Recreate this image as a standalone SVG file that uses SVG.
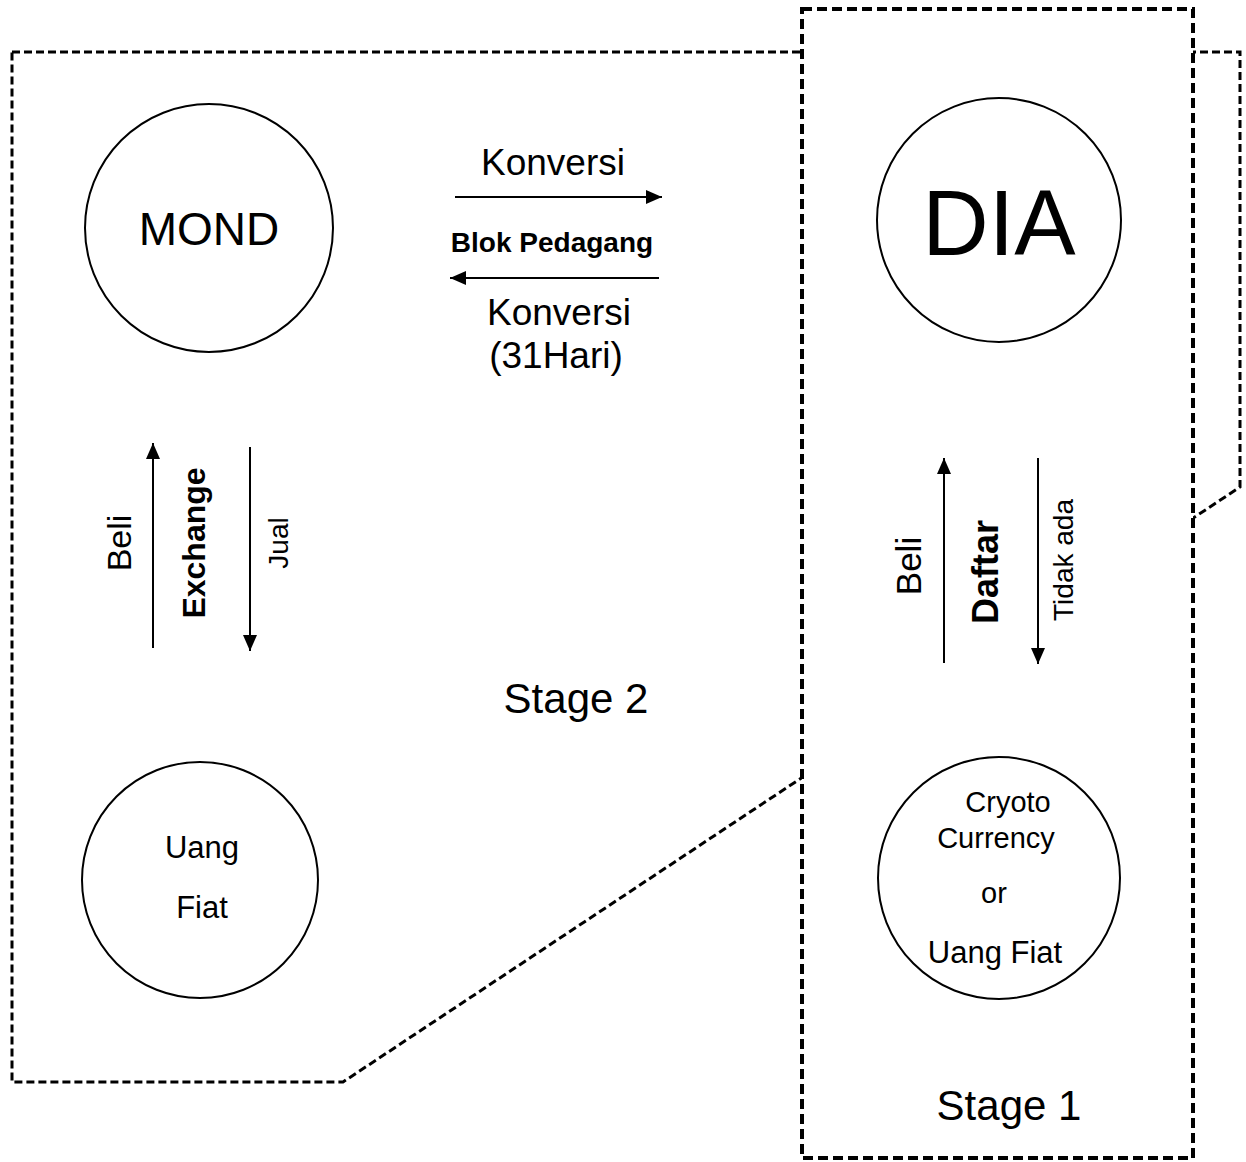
<svg xmlns="http://www.w3.org/2000/svg" width="1246" height="1162" viewBox="0 0 1246 1162">
<style>
text{font-family:"Liberation Sans",Arial,sans-serif;fill:#000}
.b{font-weight:bold}
.node{fill:#fff;stroke:#000;stroke-width:2}
.ln{stroke:#000;stroke-width:2;fill:none}
</style>
<defs>
<marker id="a" viewBox="0 0 16 14" refX="16" refY="7" markerWidth="16" markerHeight="14" markerUnits="userSpaceOnUse" orient="auto">
<path d="M0,0 L16,7 L0,14 z" fill="#000"/>
</marker>
</defs>
<rect width="1246" height="1162" fill="#fff"/>
<g id="stage2">
<polygon points="12,52 1240,52 1240,487 343,1082 12,1082" fill="none" stroke="#000" stroke-width="3" stroke-dasharray="8,4"/>
<text x="576" y="713" font-size="42" text-anchor="middle">Stage 2</text>
</g>
<g id="stage1">
<rect x="802" y="9" width="391" height="1149" fill="#fff" stroke="#000" stroke-width="4" stroke-dasharray="10,5"/>
<text x="1009" y="1120" font-size="42" text-anchor="middle">Stage 1</text>
</g>
<g id="mond">
<circle class="node" cx="209" cy="228" r="124"/>
<text x="209" y="245" font-size="46" text-anchor="middle">MOND</text>
</g>
<g id="dia">
<circle class="node" cx="999" cy="220" r="122"/>
<text x="999" y="255" font-size="92" text-anchor="middle">DIA</text>
</g>
<g id="uangfiat">
<circle class="node" cx="200" cy="880" r="118"/>
<text x="202" y="858" font-size="31" text-anchor="middle">Uang</text>
<text x="202" y="918" font-size="31" text-anchor="middle">Fiat</text>
</g>
<g id="crypto">
<circle class="node" cx="999" cy="878" r="121"/>
<text x="1008" y="812" font-size="29" text-anchor="middle">Cryoto</text>
<text x="996" y="848" font-size="29" text-anchor="middle">Currency</text>
<text x="994" y="903" font-size="29" text-anchor="middle">or</text>
<text x="995" y="963" font-size="31" text-anchor="middle">Uang Fiat</text>
</g>
<g id="connectors">
<line class="ln" x1="455" y1="197" x2="662" y2="197" marker-end="url(#a)"/>
<line class="ln" x1="659" y1="278" x2="450" y2="278" marker-end="url(#a)"/>
<line class="ln" x1="153" y1="648" x2="153" y2="443" marker-end="url(#a)"/>
<line class="ln" x1="250" y1="447" x2="250" y2="651" marker-end="url(#a)"/>
<line class="ln" x1="944" y1="663" x2="944" y2="458" marker-end="url(#a)"/>
<line class="ln" x1="1038" y1="458" x2="1038" y2="664" marker-end="url(#a)"/>
<text x="553" y="175" font-size="37" text-anchor="middle">Konversi</text>
<text class="b" x="552" y="252" font-size="28" text-anchor="middle">Blok Pedagang</text>
<text x="559" y="325" font-size="37" text-anchor="middle">Konversi</text>
<text x="556" y="368" font-size="37" text-anchor="middle">(31Hari)</text>
<text x="131" y="543" font-size="34" text-anchor="middle" transform="rotate(-90 131 543)">Beli</text>
<text class="b" x="205" y="543" font-size="32" text-anchor="middle" transform="rotate(-90 205 543)">Exchange</text>
<text x="288" y="543" font-size="28" text-anchor="middle" transform="rotate(-90 288 543)">Jual</text>
<text x="921" y="566" font-size="35" text-anchor="middle" transform="rotate(-90 921 566)">Beli</text>
<text class="b" x="998" y="572" font-size="36" text-anchor="middle" transform="rotate(-90 998 572)">Daftar</text>
<text x="1073" y="560" font-size="28" text-anchor="middle" transform="rotate(-90 1073 560)">Tidak ada</text>
</g>
</svg>
